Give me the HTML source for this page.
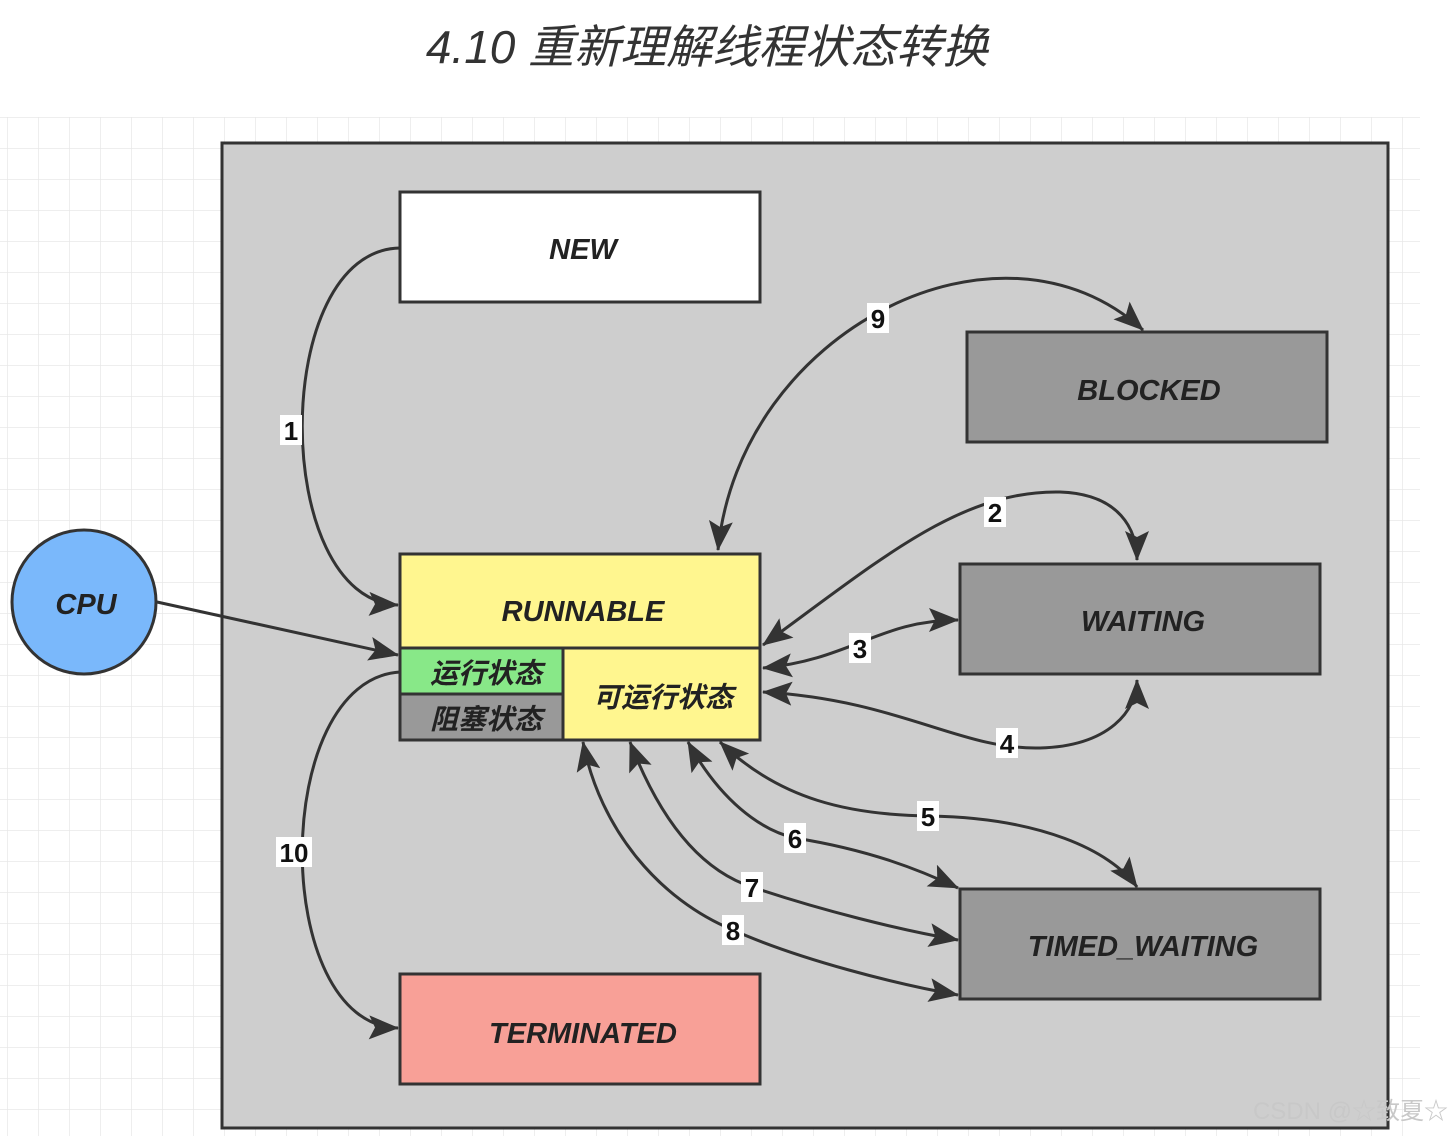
<!DOCTYPE html>
<html><head><meta charset="utf-8"><style>
html,body{margin:0;padding:0;background:#fff;}
svg{display:block;}
text{font-family:"Liberation Sans","Noto Sans CJK SC",sans-serif;}
</style></head><body>
<svg width="1453" height="1136" viewBox="0 0 1453 1136" xmlns="http://www.w3.org/2000/svg">
<defs>
<pattern id="g" x="7" y="117" width="31" height="31" patternUnits="userSpaceOnUse">
<path d="M0 0H31M0 0V31" stroke="#e8e8e8" stroke-width="1.5" fill="none"/>
</pattern>
<marker id="a" viewBox="0 0 12 10" refX="11" refY="5" markerWidth="12" markerHeight="10" markerUnits="userSpaceOnUse" orient="auto-start-reverse">
<path d="M0 0L12 5L0 10L3 5Z" fill="#333"/>
</marker>
<marker id="b" viewBox="0 0 30 24" refX="29" refY="12" markerWidth="30" markerHeight="24" markerUnits="userSpaceOnUse" orient="auto-start-reverse">
<path d="M0 0L30 12L0 24L6 12Z" fill="#333"/>
</marker>
</defs>
<rect x="0" y="117" width="1420" height="1019" fill="url(#g)"/>
<text x="707" y="63" font-size="46" font-style="italic" fill="#333" text-anchor="middle" font-family="Liberation Serif,'Noto Serif CJK SC',serif">4.10 重新理解线程状态转换</text>
<rect x="222" y="143" width="1166" height="985" fill="#cecece" stroke="#333" stroke-width="3"/>

<g font-weight="bold" font-style="italic" font-size="29" fill="#222" text-anchor="middle">
<rect x="400" y="192" width="360" height="110" fill="#fff" stroke="#333" stroke-width="3"/>
<text x="583" y="259">NEW</text>
<rect x="967" y="332" width="360" height="110" fill="#999" stroke="#333" stroke-width="3"/>
<text x="1149" y="400">BLOCKED</text>
<rect x="960" y="564" width="360" height="110" fill="#999" stroke="#333" stroke-width="3"/>
<text x="1143" y="631">WAITING</text>
<rect x="960" y="889" width="360" height="110" fill="#999" stroke="#333" stroke-width="3"/>
<text x="1143" y="956">TIMED_WAITING</text>
<rect x="400" y="974" width="360" height="110" fill="#f8a097" stroke="#333" stroke-width="3"/>
<text x="583" y="1043">TERMINATED</text>
<rect x="400" y="554" width="360" height="186" fill="#fff68f" stroke="#333" stroke-width="3"/>
<line x1="400" y1="648" x2="760" y2="648" stroke="#333" stroke-width="3"/>
<text x="583" y="621">RUNNABLE</text>
<rect x="400" y="648" width="163" height="46" fill="#88e888" stroke="#333" stroke-width="3"/>
<rect x="400" y="694" width="163" height="46" fill="#999" stroke="#333" stroke-width="3"/>
<text x="486" y="683" font-size="28">运行状态</text>
<text x="486" y="729" font-size="28">阻塞状态</text>
<text x="663" y="707" font-size="28">可运行状态</text>
<circle cx="84" cy="602" r="72" fill="#7ab8fb" stroke="#333" stroke-width="3"/>
<text x="86" y="614">CPU</text>
</g>

<g fill="none" stroke="#333" stroke-width="3">
<path d="M400,248 C270,250 270,600 398,605" marker-end="url(#b)"/>
<path d="M157,602 L398,655" marker-end="url(#b)"/>
<path d="M400,672 C270,680 270,1025 398,1028" marker-end="url(#b)"/>
<path d="M718,550 C740,330 1000,200 1143,330" marker-start="url(#b)" marker-end="url(#b)"/>
<path d="M763,645 C880,560 960,490 1060,492 C1120,494 1137,530 1137,560" marker-start="url(#b)" marker-end="url(#b)"/>
<path d="M763,668 C850,660 880,620 958,620" marker-start="url(#b)" marker-end="url(#b)"/>
<path d="M763,692 C900,700 960,750 1040,748 C1110,746 1137,710 1137,680" marker-start="url(#b)" marker-end="url(#b)"/>
<path d="M720,742 C780,800 850,815 930,816 C1040,818 1110,850 1137,887" marker-start="url(#b)" marker-end="url(#b)"/>
<path d="M688,742 C720,800 760,830 795,838 C870,850 920,870 958,888" marker-start="url(#b)" marker-end="url(#b)"/>
<path d="M630,742 C660,820 700,870 752,887 C820,910 900,930 958,940" marker-start="url(#b)" marker-end="url(#b)"/>
<path d="M583,742 C600,830 660,900 733,930 C800,960 900,985 958,995" marker-start="url(#b)" marker-end="url(#b)"/>
</g>

<g font-size="26" font-weight="bold" fill="#111" text-anchor="middle">
<rect x="280" y="415" width="22" height="30" fill="#fff"/><text x="291" y="440">1</text>
<rect x="867" y="303" width="22" height="30" fill="#fff"/><text x="878" y="328">9</text>
<rect x="984" y="497" width="22" height="30" fill="#fff"/><text x="995" y="522">2</text>
<rect x="849" y="633" width="22" height="30" fill="#fff"/><text x="860" y="658">3</text>
<rect x="996" y="728" width="22" height="30" fill="#fff"/><text x="1007" y="753">4</text>
<rect x="917" y="801" width="22" height="30" fill="#fff"/><text x="928" y="826">5</text>
<rect x="784" y="823" width="22" height="30" fill="#fff"/><text x="795" y="848">6</text>
<rect x="741" y="872" width="22" height="30" fill="#fff"/><text x="752" y="897">7</text>
<rect x="722" y="915" width="22" height="30" fill="#fff"/><text x="733" y="940">8</text>
<rect x="276" y="837" width="36" height="30" fill="#fff"/><text x="294" y="862">10</text>
</g>
<text x="1448" y="1119" font-size="24" fill="#c8c8c8" text-anchor="end">CSDN @☆致夏☆</text>
</svg>
</body></html>
